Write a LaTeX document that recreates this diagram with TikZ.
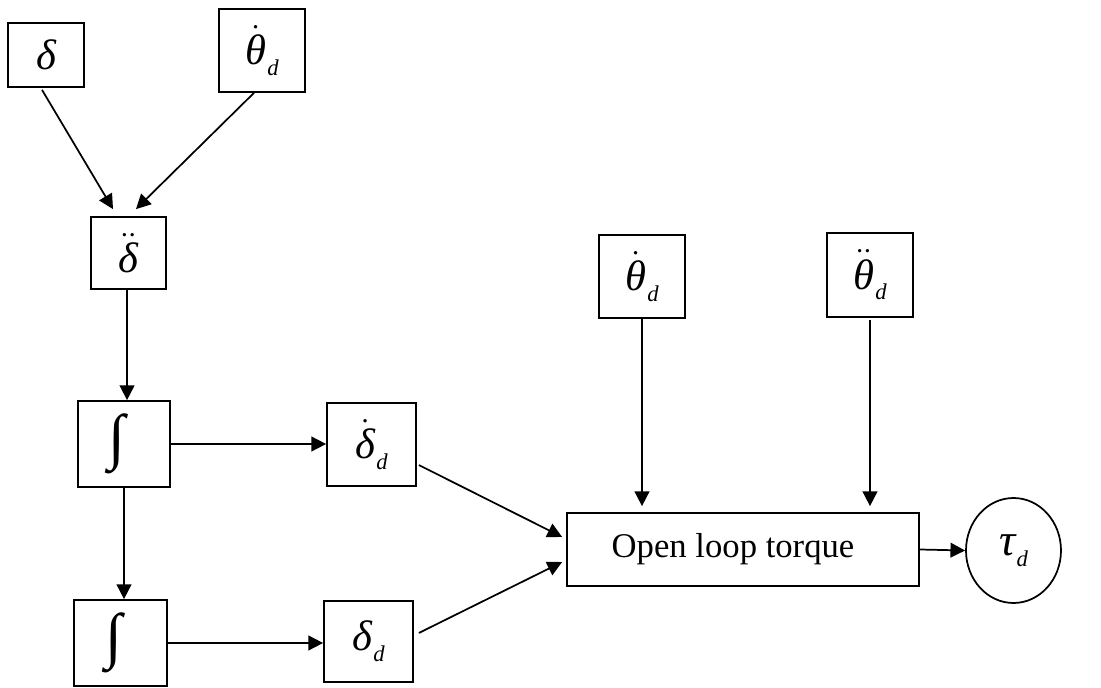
\RequirePackage{fix-cm}
\documentclass[tikz,border=0pt]{standalone}
\usepackage{amsmath}
\usepackage{fontspec}
\setmainfont{Liberation Serif}
\usetikzlibrary{arrows.meta,shapes.geometric}
\newcommand\gdot[1]{$\dot{\mbox{#1}}$}
\newcommand\gddot[1]{$\ddot{\mbox{#1}}$}
\newcommand\subd{\kern1pt\raisebox{-8pt}{\fontsize{17}{17}\selectfont\itshape d}}
\tikzset{
  blk/.style={draw, line width=1.3pt, inner sep=0pt, font=\fontsize{32}{38}\selectfont\itshape},
  intbox/.style={blk, font=\fontsize{46}{50}\selectfont},
  arr/.style={line width=1.3pt, -{Triangle[length=11pt,width=11pt]}},
}
\begin{document}
\begin{tikzpicture}[x=0.75pt,y=-0.75pt]
\useasboundingbox (0,0) rectangle (1101,688);
\node[blk, minimum width=57pt, minimum height=48pt] (delta) at (46,55) {δ};
\node[blk, minimum width=64.5pt, minimum height=62.25pt] (thdA) at (262,50.5) {\gdot{θ}\subd};
\node[blk, minimum width=56.25pt, minimum height=54pt] (ddd) at (128.5,253) {\gddot{δ}};
\node[intbox, minimum width=69pt, minimum height=64.5pt] (int1) at (124,444) {\hspace*{-10pt}\raisebox{-2pt}{∫}};
\node[intbox, minimum width=69.75pt, minimum height=64.5pt] (int2) at (120.5,643) {\hspace*{-10pt}\raisebox{-2pt}{∫}};
\node[blk, minimum width=66.75pt, minimum height=62.25pt] (dd1) at (371.5,444.5) {\gdot{δ}\subd};
\node[blk, minimum width=66.75pt, minimum height=60.75pt] (dd0) at (368.5,641.5) {δ\subd};
\node[blk, minimum width=64.5pt, minimum height=62.25pt] (thdB) at (642,276.5) {\gdot{θ}\subd};
\node[blk, minimum width=64.5pt, minimum height=63pt] (thddB) at (870,275) {\gddot{θ}\subd};
\node[blk, font=\fontsize{26}{30}\selectfont, minimum width=264pt, minimum height=54.75pt] (olt) at (743,549.5) {\hspace*{-15pt}Open loop torque};
\node[blk, ellipse, minimum width=71.25pt, minimum height=78.75pt, font=\fontsize{34}{38}\selectfont\itshape] (tau) at (1013.5,550.5) {τ\subd};

\draw[arr] ([xshift=-3pt,yshift=-1.5pt]delta.south) -- ([xshift=-11.6pt,yshift=5.25pt]ddd.north);
\draw[arr] ([xshift=-6pt]thdA.south) -- ([xshift=5.6pt,yshift=5.25pt]ddd.north);
\draw[arr] ([xshift=-1.1pt]ddd.south) -- ([xshift=-1.1pt]ddd.south |- int1.north);
\draw[arr] (int1.south) -- (int1.south |- int2.north);
\draw[arr] (int1.east) -- (int1.east -| dd1.west);
\draw[arr] (int2.east) -- (int2.east -| dd0.west);
\draw[arr] ([xshift=1.5pt,yshift=-15.4pt]dd1.east) -- ([xshift=-3pt,yshift=9.4pt]olt.west);
\draw[arr] ([xshift=3.75pt,yshift=6.4pt]dd0.east) -- ([xshift=-3pt,yshift=-9.4pt]olt.west);
\draw[arr, shorten >=4.5pt] (thdB.south) -- (thdB.south |- olt.north);
\draw[arr, shorten >=4.5pt] ([yshift=-1.5pt]thddB.south) -- (thddB.south |- olt.north);
\draw[arr] (olt.east) -- (tau.west);
\end{tikzpicture}
\end{document}
